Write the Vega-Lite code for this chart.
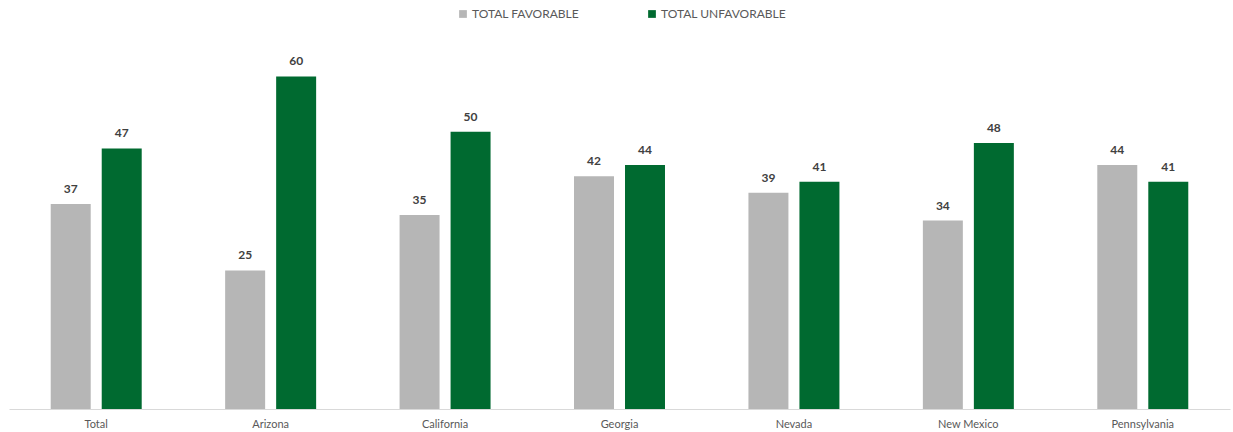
{
  "$schema": "https://vega.github.io/schema/vega-lite/v6.json",
  "width": 1221,
  "height": 388,
  "autosize": {"type": "none"},
  "padding": {"left": 9, "top": 21, "right": 3, "bottom": 23},
  "background": "white",
  "config": {"view": {"stroke": null}, "font": "Lato"},
  "data": {
    "values": [
      {"state": "Total", "series": "TOTAL FAVORABLE", "value": 37},
      {"state": "Total", "series": "TOTAL UNFAVORABLE", "value": 47},
      {"state": "Arizona", "series": "TOTAL FAVORABLE", "value": 25},
      {"state": "Arizona", "series": "TOTAL UNFAVORABLE", "value": 60},
      {"state": "California", "series": "TOTAL FAVORABLE", "value": 35},
      {"state": "California", "series": "TOTAL UNFAVORABLE", "value": 50},
      {"state": "Georgia", "series": "TOTAL FAVORABLE", "value": 42},
      {"state": "Georgia", "series": "TOTAL UNFAVORABLE", "value": 44},
      {"state": "Nevada", "series": "TOTAL FAVORABLE", "value": 39},
      {"state": "Nevada", "series": "TOTAL UNFAVORABLE", "value": 41},
      {"state": "New Mexico", "series": "TOTAL FAVORABLE", "value": 34},
      {"state": "New Mexico", "series": "TOTAL UNFAVORABLE", "value": 48},
      {"state": "Pennsylvania", "series": "TOTAL FAVORABLE", "value": 44},
      {"state": "Pennsylvania", "series": "TOTAL UNFAVORABLE", "value": 41}
    ]
  },
  "encoding": {
    "x": {
      "field": "state", "type": "nominal", "sort": null,
      "scale": {"paddingInner": 0, "paddingOuter": 0},
      "axis": {
        "title": null, "labelAngle": 0, "ticks": false, "domainColor": "#d9d9d9", "domainWidth": 1,
        "labelColor": "#595959", "labelFontSize": 11, "labelPadding": 9, "grid": false
      }
    },
    "xOffset": {
      "field": "series", "type": "nominal",
      "scale": {"paddingInner": 0.216, "paddingOuter": 0.818}
    },
    "y": {
      "field": "value", "type": "quantitative",
      "scale": {"domain": [0, 70], "nice": false},
      "axis": null
    }
  },
  "layer": [
    {
      "mark": {"type": "bar"},
      "encoding": {
        "color": {
          "field": "series", "type": "nominal",
          "scale": {"domain": ["TOTAL FAVORABLE", "TOTAL UNFAVORABLE"], "range": ["#b6b6b6", "#006a30"]},
          "legend": {
            "title": null, "orient": "none", "direction": "horizontal",
            "legendX": 448, "legendY": -13,
            "symbolType": "square", "symbolSize": 60, "symbolOpacity": 1,
            "labelColor": "#595959", "labelFontSize": 12, "labelOffset": 3,
            "columnPadding": 66
          }
        }
      }
    },
    {
      "mark": {"type": "text", "baseline": "bottom", "dy": -8, "fontWeight": "bold", "fontSize": 12, "color": "#404040"},
      "encoding": {"text": {"field": "value", "type": "quantitative"}}
    }
  ]
}
